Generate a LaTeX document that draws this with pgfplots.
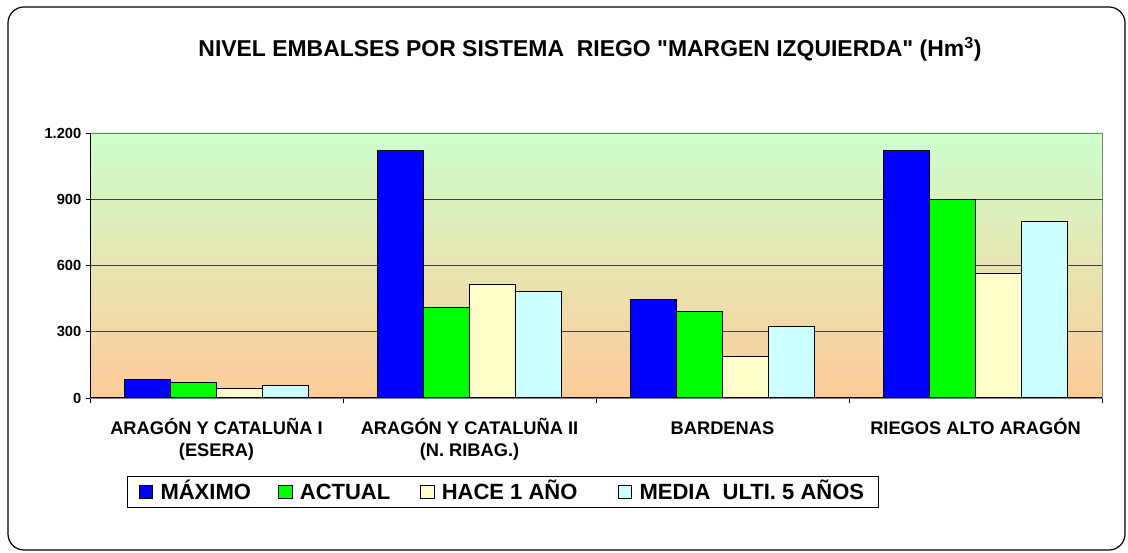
\documentclass[border=0pt]{standalone}
\usepackage{fontspec}
\setmainfont{Liberation Sans}[Ligatures=TeXOff]
\usepackage{pgfplots}
\pgfplotsset{compat=1.18}
\definecolor{cmax}{RGB}{0,0,255}
\definecolor{cact}{RGB}{0,255,0}
\definecolor{chace}{RGB}{255,255,204}
\definecolor{cmedia}{RGB}{204,255,255}
\definecolor{bgtop}{RGB}{204,255,204}
\definecolor{bgbot}{RGB}{255,204,153}
\definecolor{gridc}{RGB}{64,64,64}
\begin{document}
\begin{tikzpicture}[x=0.75pt,y=0.75pt]
\path (0,0) rectangle (1128,553);
\draw[line width=0.9pt, rounded corners=12pt] (8,546) rectangle (1125,3);
\node[font=\bfseries\fontsize{17.2}{20}\selectfont, anchor=base] at (590,496) {NIVEL EMBALSES POR SISTEMA\ \ RIEGO "MARGEN IZQUIERDA" (Hm\textsuperscript{3})};
\begin{axis}[
  at={(67.5pt,116.25pt)}, anchor=south west,
  scale only axis, width=759pt, height=198.75pt,
  xmin=-0.5, xmax=3.5, ymin=0, ymax=1200,
  ybar=0pt, bar width=34.5pt,
  axis background/.style={top color=bgtop, bottom color=bgbot},
  axis line style={draw=gray},
  tick align=outside, tick pos=left,
  major tick length=3pt, minor tick length=3.75pt,
  ytick={0,300,600,900,1200},
  ymajorgrids, grid style={gridc, line width=0.6pt},
  xtick={0,1,2,3},
  xticklabels={{ARAGÓN Y CATALUÑA I\\(ESERA)},{ARAGÓN Y CATALUÑA II\\(N. RIBAG.)},{BARDENAS\\\mbox{}},{RIEGOS ALTO ARAGÓN\\\mbox{}}},
  major x tick style={draw=none},
  minor xtick={-0.5,0.5,1.5,2.5,3.5},
  minor x tick style={black, line width=0.6pt},
  y tick style={black, line width=0.6pt},
  xticklabel style={font=\bfseries\fontsize{13.7}{16.5}\selectfont, align=center, anchor=base, yshift=-41pt},
  yticklabel style={font=\bfseries\fontsize{11}{13}\selectfont},
  /pgf/number format/.cd, 1000 sep={.}, assume math mode=true, /pgfplots/.cd,
  legend columns=4,
  legend style={at={(0.4080,-0.355)}, anchor=center, draw=black, line width=0.6pt,
    font=\bfseries\fontsize{16.5}{19}\selectfont,
    inner xsep=8.5pt, inner ysep=2.8pt,
    nodes={text height=12pt, text depth=0.5pt, inner xsep=2pt, inner ysep=2.8pt},
    /tikz/every odd column/.append style={column sep=3.5pt},
    /tikz/every even column/.append style={column sep=0pt}},
  legend image code/.code={\draw[#1,draw=black,line width=0.6pt] (0pt,-5pt) rectangle (10pt,5pt);},
]
\addplot[fill=cmax, draw=black, line width=0.75pt] coordinates {(0,85) (1,1120) (2,444) (3,1120)};
\addplot[fill=cact, draw=black, line width=0.75pt] coordinates {(0,69) (1,411) (2,391) (3,897)};
\addplot[fill=chace, draw=black, line width=0.75pt] coordinates {(0,44) (1,516) (2,187) (3,562)};
\addplot[fill=cmedia, draw=black, line width=0.75pt] coordinates {(0,57) (1,483) (2,325) (3,799)};
\legend{MÁXIMO\hspace{18.6pt}\null, ACTUAL\hspace{20.5pt}\null, HACE 1 AÑO\hspace{28.5pt}\null, MEDIA\ \ ULTI. 5 AÑOS}
\draw[black, line width=0.75pt] (rel axis cs:0,1) -- (rel axis cs:0,0) -- (rel axis cs:1,0);
\end{axis}
\end{tikzpicture}
\end{document}
